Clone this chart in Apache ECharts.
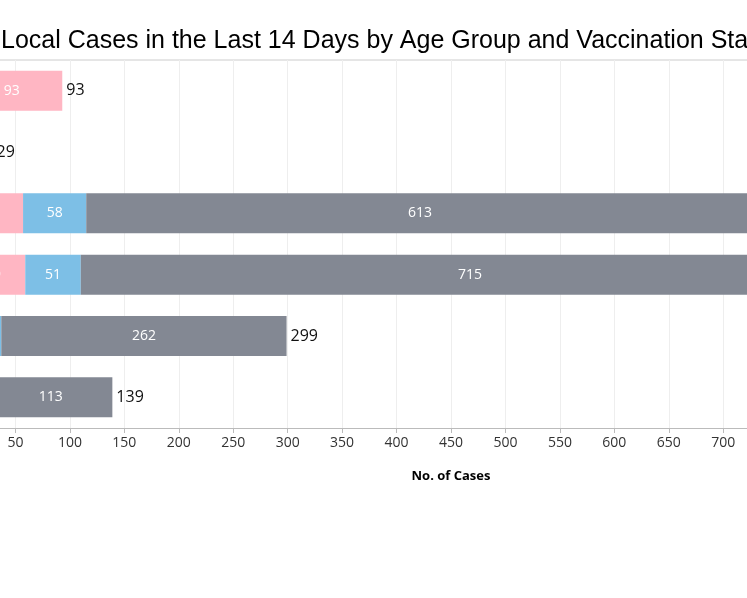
<!DOCTYPE html>
<html><head><meta charset="utf-8">
<script src="https://cdn.jsdelivr.net/npm/echarts@6/dist/echarts.min.js"></script>
<style>html,body{margin:0;padding:0;background:#fff;overflow:hidden;width:747px;height:598px;position:relative}
#c{position:absolute;left:-46px;top:0;width:1002px;height:598px}</style>
</head><body><div id="c"></div>
<script>
var ageGroups = ['0-11', '12-19', '20-39', '40-59', '60-79', '80+'];
var unvaccinated = [93, 29, 57, 59, 20, 14];
var partial = [0, 0, 58, 51, 17, 12];
var full = [0, 0, 613, 715, 262, 113];
var totals = [93, 29, 728, 825, 299, 139];

function seg(name, data, color) {
    return {
        name: name, type: 'bar', stack: 'all', data: data, barWidth: 40,
        itemStyle: {color: color},
        label: {show: true, position: 'inside', color: '#fff', fontSize: 14, fontFamily: 'Open Sans',
            formatter: function (p) { return p.value > 0 ? p.value : ''; }}
    };
}

var chart = echarts.init(document.getElementById('c'));
chart.setOption({
    animation: false,
    title: {
        text: 'Local Cases in the Last 14 Days by Age Group and Vaccination Status',
        left: 42, top: 24,
        textStyle: {fontFamily: 'Liberation Sans', fontWeight: 'normal', fontSize: 25, color: '#000'}
    },
    grid: {left: 0, right: 0, top: 60, bottom: 170},
    xAxis: {
        type: 'value', min: 0, max: 900, interval: 50,
        name: 'No. of Cases', nameLocation: 'middle', nameGap: 42,
        nameTextStyle: {fontWeight: 'bold', fontSize: 13, color: '#000', fontFamily: 'Open Sans'},
        axisLine: {show: true, lineStyle: {color: '#bbb'}},
        axisTick: {show: true, lineStyle: {color: '#bbb'}},
        axisLabel: {color: '#333', fontSize: 14, fontFamily: 'Open Sans', showMinLabel: true, showMaxLabel: true},
        splitLine: {show: true, lineStyle: {color: '#eee'}}
    },
    yAxis: {
        type: 'category', data: ageGroups, inverse: true,
        axisLabel: {show: false}, axisTick: {show: false},
        axisLine: {show: false}
    },
    graphic: [{type: 'line', shape: {x1: 46, y1: 60, x2: 1002, y2: 60}, style: {stroke: '#ccc', lineWidth: 1}}],
    series: [
        seg('Unvaccinated', unvaccinated, '#ffb6c3'),
        seg('Partially Vaccinated', partial, '#7dbfe6'),
        seg('Fully Vaccinated', full, '#838893'),
        {
            name: 'Total', type: 'bar', stack: 'all', barWidth: 40,
            data: totals.map(function () { return 0; }),
            label: {show: true, position: 'right', distance: 4, color: '#111', fontSize: 16, fontFamily: 'Open Sans',
                formatter: function (p) { return totals[p.dataIndex]; }}
        }
    ]
});
</script>
</body></html>
